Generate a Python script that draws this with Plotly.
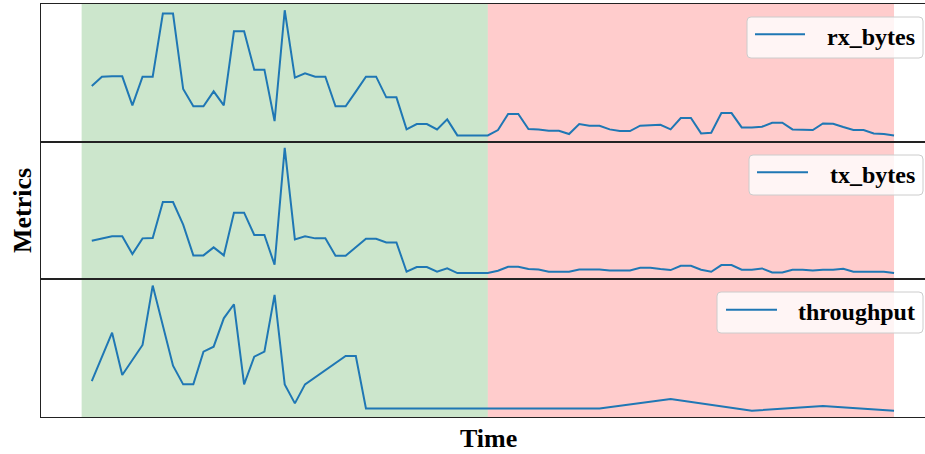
import plotly.graph_objects as go
from plotly.subplots import make_subplots

# ---------------- data ----------------
time_idx = list(range(80))
rx_bytes = [149, 177, 178, 178, 91, 177, 177, 366, 366, 140,
            88, 88, 133, 91, 313, 313, 198, 198, 44, 376,
            174, 187, 177, 177, 88, 88, 132, 177, 177, 115,
            115, 19, 35, 35, 19, 49, 1, 1, 1, 1,
            17, 65, 65, 20, 19, 15, 15, 5, 35, 30,
            30, 19, 14, 14, 30, 31, 33, 19, 53, 53,
            7, 9, 68, 68, 25, 25, 27, 39, 39, 19,
            19, 17, 37, 36, 26, 17, 17, 7, 5, 1]
tx_bytes = [97, 104, 110, 110, 57, 104, 105, 213, 213, 145,
            53, 53, 77, 53, 181, 181, 114, 114, 25, 375,
            101, 110, 104, 104, 52, 52, 77, 103, 103, 92,
            92, 4, 18, 18, 4, 14, 0, 0, 0, 0,
            7, 19, 19, 12, 11, 4, 4, 4, 11, 11,
            11, 8, 8, 8, 16, 16, 12, 9, 22, 22,
            10, 4, 24, 24, 10, 10, 14, 2, 2, 10,
            10, 8, 10, 10, 13, 4, 4, 5, 4, 0]
thr_time = [0, 2, 3, 5, 6, 8, 9, 10, 11, 12, 13, 14, 15, 16, 17, 18,
            19, 20, 21, 25, 26, 27, 39, 50, 57, 65, 72, 79]
throughput = [89, 234, 107, 197, 375, 135, 79, 79, 177, 192, 277, 319,
              79, 162, 177, 347, 79, 22, 79, 164, 164, 7, 7, 7, 35, 0, 14, 0]
series = [("rx_bytes", time_idx, rx_bytes),
          ("tx_bytes", time_idx, tx_bytes),
          ("throughput", thr_time, throughput)]
normal_span = (-1, 39)
anomaly_span = (39, 79)

# ---------------- layout helpers ----------------
W, H = 925, 454
PL, PR, PT, PB = 41, 925, 4, 417
def px(x):
    return (x - PL) / (PR - PL)
def py(y):
    return (PB - y) / (PB - PT)

FONT = "Liberation Serif, Times New Roman, serif"
BLUE = "#1f77b4"

fig = make_subplots(rows=3, cols=1, shared_xaxes=True, vertical_spacing=0)

for i, (name, xs, ys) in enumerate(series, start=1):
    fig.add_trace(go.Scatter(x=xs, y=ys, mode="lines", name=name,
                             line=dict(color=BLUE, width=2),
                             showlegend=False), row=i, col=1)
    lo, hi = min(ys), max(ys)
    pad = 0.05 * (hi - lo)
    fig.update_yaxes(range=[lo - pad, hi + pad], row=i, col=1)

fig.update_xaxes(range=[-5, 82.05], showticklabels=False, ticks="",
                 showgrid=False, zeroline=False, showline=True, mirror=True,
                 linecolor="#222222", linewidth=1)
fig.update_yaxes(showticklabels=False, ticks="", showgrid=False,
                 zeroline=False, showline=True, mirror=False,
                 linecolor="#222222", linewidth=1)

# shaded spans
shapes = [
    dict(type="rect", xref="x", yref="paper", x0=normal_span[0], x1=normal_span[1],
         y0=0, y1=1, fillcolor="rgba(0,128,0,0.2)", line=dict(width=0), layer="below"),
    dict(type="rect", xref="x", yref="paper", x0=anomaly_span[0], x1=anomaly_span[1],
         y0=0, y1=1, fillcolor="rgba(255,0,0,0.2)", line=dict(width=0), layer="below"),
]

# legends drawn manually (rounded box + line sample + text)
legends = [
    ("rx_bytes", (747, 17, 923, 58), (755, 805, 34.3), 825),
    ("tx_bytes", (749, 155, 923, 195), (757, 808, 172.3), 828),
    ("throughput", (717, 292, 923, 333), (726, 777, 309.7), 796),
]
annotations = []
r = 4
for name, (bx0, by0, bx1, by1), (lx0, lx1, ly), tx in legends:
    rxp = r / (PR - PL)
    ryp = r / (PB - PT)
    X0, X1, Y0, Y1 = px(bx0), px(bx1), py(by1), py(by0)
    path = (f"M {X0+rxp},{Y0} L {X1-rxp},{Y0} Q {X1},{Y0} {X1},{Y0+ryp} "
            f"L {X1},{Y1-ryp} Q {X1},{Y1} {X1-rxp},{Y1} "
            f"L {X0+rxp},{Y1} Q {X0},{Y1} {X0},{Y1-ryp} "
            f"L {X0},{Y0+ryp} Q {X0},{Y0} {X0+rxp},{Y0} Z")
    shapes.append(dict(type="path", xref="paper", yref="paper", path=path,
                       fillcolor="rgba(255,255,255,0.8)",
                       line=dict(color="#cccccc", width=1), layer="above"))
    shapes.append(dict(type="line", xref="paper", yref="paper",
                       x0=px(lx0), x1=px(lx1), y0=py(ly), y1=py(ly),
                       line=dict(color=BLUE, width=2), layer="above"))
    annotations.append(dict(text=f"<b>{name}</b>", xref="paper", yref="paper",
                            x=px(tx), y=py(ly + 2.5), xanchor="left", yanchor="middle",
                            showarrow=False, font=dict(family=FONT, size=24, color="black")))

annotations.append(dict(text="<b>Metrics</b>", xref="paper", yref="paper",
                        x=px(22), y=py(211), xanchor="center", yanchor="middle",
                        textangle=-90, showarrow=False,
                        font=dict(family=FONT, size=26, color="black")))
annotations.append(dict(text="<b>Time</b>", xref="paper", yref="paper",
                        x=px(488), y=py(438.5), xanchor="center", yanchor="middle",
                        showarrow=False,
                        font=dict(family=FONT, size=26, color="black")))

fig.update_layout(width=W, height=H,
                  margin=dict(l=PL, r=W - PR, t=PT, b=H - PB, pad=0),
                  paper_bgcolor="white", plot_bgcolor="white",
                  shapes=shapes, annotations=annotations, showlegend=False)

fig.write_html("out.html")
